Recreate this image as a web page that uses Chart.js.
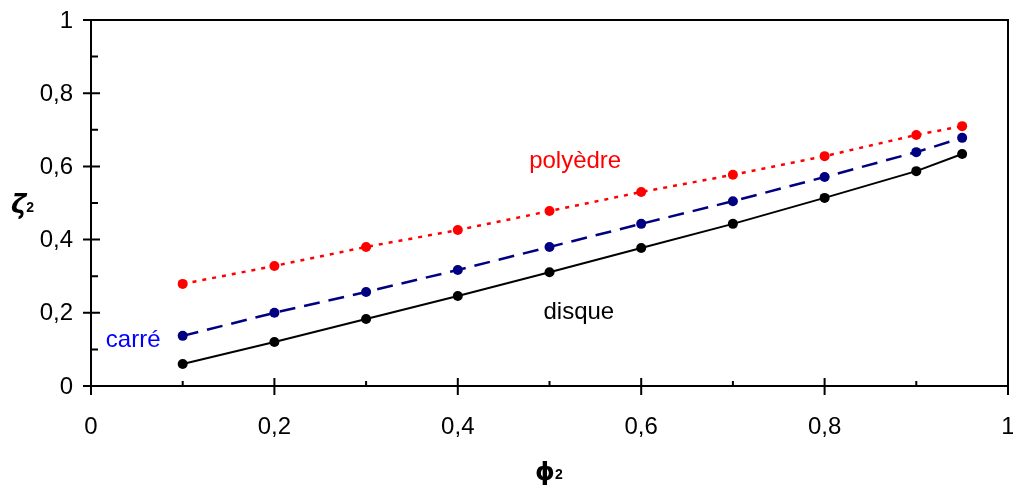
<!DOCTYPE html>
<html>
<head>
<meta charset="utf-8">
<script src="https://cdn.jsdelivr.net/npm/chart.js@4.4.0/dist/chart.umd.min.js"></script>
<style>
  html, body { margin: 0; padding: 0; background: #fff; }
  #wrap { width: 1013px; height: 488px; position: relative; }
</style>
</head>
<body>
<div id="wrap"><canvas id="chart"></canvas></div>
<script>
const phi = [0.1, 0.2, 0.3, 0.4, 0.5, 0.6, 0.7, 0.8, 0.9, 0.95];
const disque = [0.06, 0.12, 0.183, 0.246, 0.311, 0.377, 0.443, 0.514, 0.587, 0.634];
const carre = [0.137, 0.2, 0.257, 0.317, 0.38, 0.443, 0.505, 0.571, 0.639, 0.678];
const polyedre = [0.279, 0.328, 0.38, 0.426, 0.478, 0.53, 0.577, 0.628, 0.686, 0.71];
const tickVals = [0, 0.2, 0.4, 0.6, 0.8, 1];
const labels = [
  { text: 'polyèdre', x: 0.528, y: 0.613, color: '#ff0000' },
  { text: 'carré', x: 0.046, y: 0.126, color: '#0000ff' },
  { text: 'disque', x: 0.532, y: 0.2, color: '#000000' }
];

const fmt = v => String(Math.round(v * 10) / 10).replace('.', ',');
const pts = arr => phi.map((p, i) => ({ x: p, y: arr[i] }));
const FONT = '24px "Liberation Sans", Arial, sans-serif';

// symbole + indice 2
function symbol(ctx, ch, font, x, y) {
  ctx.font = font;
  ctx.textBaseline = 'alphabetic';
  ctx.fillText(ch, x, y);
  const w = ctx.measureText(ch).width;
  ctx.font = 'bold 14px "Liberation Sans", sans-serif';
  ctx.fillText('2', x + w, y - 1);
}

// cadre, graduations, etiquettes
const decor = {
  id: 'decor',
  afterDraw(chart) {
    const ctx = chart.ctx;
    const a = chart.chartArea;
    const xs = chart.scales.x, ys = chart.scales.y;
    ctx.save();
    ctx.strokeStyle = '#000';
    ctx.lineWidth = 2;
    ctx.strokeRect(a.left, a.top, a.right - a.left, a.bottom - a.top);
    for (let i = 0; i <= 10; i++) {
      const v = i / 10;
      const major = i % 2 === 0;
      const px = xs.getPixelForValue(v);
      const py = ys.getPixelForValue(v);
      ctx.beginPath();
      ctx.moveTo(px, a.bottom + (major ? 9 : 0));
      ctx.lineTo(px, a.bottom - (major ? 8 : 5));
      ctx.moveTo(a.left - (major ? 8 : 0), py);
      ctx.lineTo(a.left + (major ? 9 : 7), py);
      ctx.stroke();
    }
    ctx.fillStyle = '#000';
    ctx.font = FONT;
    ctx.textBaseline = 'middle';
    ctx.textAlign = 'right';
    tickVals.forEach(v => ctx.fillText(fmt(v), a.left - 18, ys.getPixelForValue(v) + 1));
    ctx.textAlign = 'center';
    tickVals.forEach(v => ctx.fillText(fmt(v), xs.getPixelForValue(v), a.bottom + 41));
    labels.forEach(l => {
      ctx.fillStyle = l.color;
      ctx.fillText(l.text, xs.getPixelForValue(l.x), ys.getPixelForValue(l.y));
    });
    ctx.fillStyle = '#000';
    ctx.textAlign = 'left';
    symbol(ctx, 'ζ', 'bold italic 26px "DejaVu Sans", sans-serif', 11, 213);
    symbol(ctx, '\u03D5', 'bold 25px "DejaVu Sans", sans-serif', 535, 480);
    ctx.restore();
  }
};

new Chart(document.getElementById('chart'), {
  type: 'scatter',
  data: {
    datasets: [
      {
        label: 'polyèdre',
        data: pts(polyedre),
        showLine: true,
        borderColor: '#ff0000',
        backgroundColor: '#ff0000',
        borderWidth: 2.5,
        borderDash: [4, 6],
        pointRadius: 5,
        pointBorderWidth: 0
      },
      {
        label: 'carré',
        data: pts(carre),
        showLine: true,
        borderColor: '#000080',
        backgroundColor: '#000080',
        borderWidth: 2.5,
        borderDash: [16, 9],
        pointRadius: 5,
        pointBorderWidth: 0
      },
      {
        label: 'disque',
        data: pts(disque),
        showLine: true,
        borderColor: '#000000',
        backgroundColor: '#000000',
        borderWidth: 2,
        pointRadius: 5,
        pointBorderWidth: 0
      }
    ]
  },
  options: {
    responsive: true,
    maintainAspectRatio: false,
    animation: false,
    layout: { padding: { top: 20, right: 5, left: 0, bottom: 0 } },
    plugins: { legend: { display: false }, tooltip: { enabled: false } },
    scales: {
      x: {
        type: 'linear',
        min: 0,
        max: 1,
        afterFit: s => { s.height = 102; },
        grid: { display: false },
        border: { display: false },
        ticks: { display: false }
      },
      y: {
        type: 'linear',
        min: 0,
        max: 1,
        afterFit: s => { s.width = 91; },
        grid: { display: false },
        border: { display: false },
        ticks: { display: false }
      }
    }
  },
  plugins: [decor]
});
</script>
</body>
</html>
